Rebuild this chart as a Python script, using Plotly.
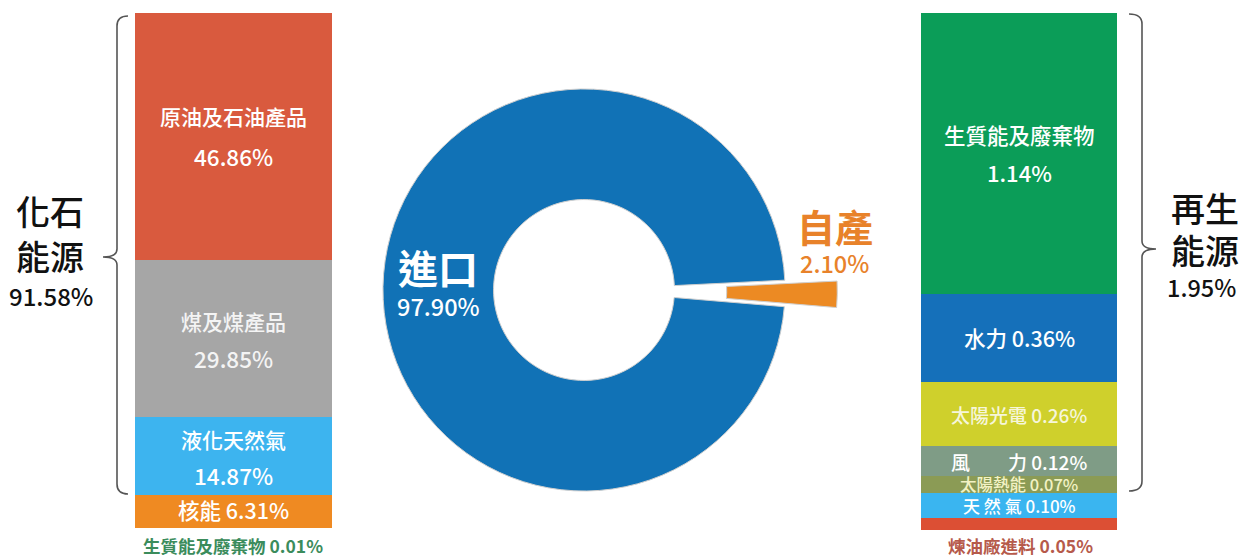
import plotly.graph_objects as go

W, H = 1243, 557
FONT = "Noto Sans CJK TC"

# ---- data ----
# imports (left bar), bottom -> top
import_cats = ["生質能及廢棄物", "核能", "液化天然氣", "煤及煤產品", "原油及石油產品"]
import_vals = [0.01, 6.31, 14.87, 29.85, 46.86]
import_colors = ["#2e9a5c", "#ef8a22", "#3db4ef", "#a6a6a6", "#d95a3e"]

# domestic production (right bar), bottom -> top
dom_cats = ["煉油廠進料", "天然氣", "太陽熱能", "風力", "太陽光電", "水力", "生質能及廢棄物"]
dom_vals = [0.05, 0.10, 0.07, 0.12, 0.26, 0.36, 1.14]
dom_colors = ["#dc4f34", "#3ab5f0", "#8b9b55", "#7f9c86", "#cfd02c", "#1570ba", "#0b9d58"]

pie_labels = ["自產", "進口"]
pie_vals = [2.10, 97.90]
pie_colors = ["#ec8a23", "#1172b6"]

fossil_share = round(sum(import_vals[2:]), 2)      # 液化天然氣 + 煤 + 原油
renew_share = round(sum(dom_vals[2:]), 2)          # 太陽熱能..生質能


def px(x):
    return x / W


def py(y):
    return 1 - y / H


fig = go.Figure()

# ---- left stacked bar ----
for c, v, col in zip(import_cats, import_vals, import_colors):
    fig.add_trace(go.Bar(x=[0], y=[v], name=c, marker=dict(color=col, line=dict(width=0)),
                         width=1, xaxis="x", yaxis="y", hoverinfo="skip", showlegend=False))

# ---- right stacked bar ----
for c, v, col in zip(dom_cats, dom_vals, dom_colors):
    fig.add_trace(go.Bar(x=[0], y=[v], name=c, marker=dict(color=col, line=dict(width=0)),
                         width=1, xaxis="x2", yaxis="y2", hoverinfo="skip", showlegend=False))

# ---- donut ----
fig.add_trace(go.Pie(labels=pie_labels, values=pie_vals, hole=0.45, sort=False,
                     direction="clockwise", rotation=87.2, pull=[0.26, 0],
                     marker=dict(colors=pie_colors, line=dict(color="#cfcfcf", width=1)),
                     textinfo="none", hoverinfo="skip", showlegend=False,
                     domain=dict(x=[px(304), px(864)], y=[py(543.3), py(36.7)])))

ann = []


def add(text, x, y, size, color, xref="paper", yref="paper", yshift=0, weight=500):
    ann.append(dict(text=text, x=x, y=y, xref=xref, yref=yref, showarrow=False,
                    xanchor="center", yanchor="middle", yshift=yshift,
                    font=dict(family=FONT, size=size, color=color, weight=weight)))


# left bar labels
cum = 0
left_mid = []
for v in import_vals:
    left_mid.append(cum + v / 2)
    cum += v
add(import_cats[4], 0, left_mid[4], 21, "#ffffff", "x", "y", yshift=20)
add(f"{import_vals[4]:.2f}%", 0, left_mid[4], 22.5, "#ffffff", "x", "y", yshift=-20)
add(import_cats[3], 0, left_mid[3], 21, "#f4f4f4", "x", "y", yshift=17)
add(f"{import_vals[3]:.2f}%", 0, left_mid[3], 22.5, "#f4f4f4", "x", "y", yshift=-20)
add(import_cats[2], 0, left_mid[2], 21, "#ffffff", "x", "y", yshift=17)
add(f"{import_vals[2]:.2f}%", 0, left_mid[2], 22.5, "#ffffff", "x", "y", yshift=-19)
add(f"{import_cats[1]} {import_vals[1]:.2f}%", 0, left_mid[1] + 0.4, 21.5, "#ffffff", "x", "y")
add(f"{import_cats[0]} {import_vals[0]:.2f}%", px(233), py(545), 17.5, "#3b8c5c", weight=700)

# right bar labels
cum = 0
right_mid = []
for v in dom_vals:
    right_mid.append(cum + v / 2)
    cum += v
add(dom_cats[6], 0, right_mid[6], 21.5, "#ffffff", "x2", "y2", yshift=19)
add(f"{dom_vals[6]:.2f}%", 0, right_mid[6], 22, "#ffffff", "x2", "y2", yshift=-19)
add(f"{dom_cats[5]} {dom_vals[5]:.2f}%", 0, right_mid[5], 21.5, "#ffffff", "x2", "y2")
add(f"{dom_cats[4]} {dom_vals[4]:.2f}%", 0, right_mid[4], 19, "#f6f6da", "x2", "y2")
add(f"風　　力 {dom_vals[3]:.2f}%", 0, right_mid[3], 19, "#ffffff", "x2", "y2")
add(f"{dom_cats[2]} {dom_vals[2]:.2f}%", 0, right_mid[2], 16.5, "#f2f2c4", "x2", "y2")
add(f"天 然 氣 {dom_vals[1]:.2f}%", 0, right_mid[1], 17, "#ffffff", "x2", "y2")
add(f"{dom_cats[0]} {dom_vals[0]:.2f}%", px(1020), py(545), 17.5, "#b65a4b", weight=700)

# group labels
add("化石", px(50), py(210), 34, "#111111")
add("能源", px(50), py(255), 34, "#111111")
add(f"{fossil_share:.2f}%", px(51), py(295), 24, "#111111")
add("再生", px(1205), py(207), 34, "#111111")
add("能源", px(1205), py(249), 34, "#111111")
add(f"{renew_share:.2f}%", px(1201), py(287), 23.5, "#111111")

# donut labels
add(f"{pie_labels[1]}", px(438), py(267), 40, "#ffffff", weight=700)
add(f"{pie_vals[1]:.2f}%", px(438), py(306), 23.5, "#ffffff")
add(f"{pie_labels[0]}", px(835), py(225), 38, "#e8822a", weight=700)
add(f"{pie_vals[0]:.2f}%", px(834), py(263), 23.5, "#e8822a")


# braces
def brace(xtip, xv, ytop, ybot, ytip, hook):
    r = 10
    return (f"M {px(xv + hook)},{py(ytop)} Q {px(xv)},{py(ytop)} {px(xv)},{py(ytop + r)} "
            f"L {px(xv)},{py(ytip - 8)} Q {px(xv)},{py(ytip)} {px(xtip)},{py(ytip)} "
            f"Q {px(xv)},{py(ytip)} {px(xv)},{py(ytip + 8)} "
            f"L {px(xv)},{py(ybot - r)} Q {px(xv)},{py(ybot)} {px(xv + hook)},{py(ybot)}")


shapes = [
    dict(type="path", xref="paper", yref="paper", path=brace(103, 117, 16, 494, 257, 11),
         line=dict(color="#555555", width=1.6)),
    dict(type="path", xref="paper", yref="paper", path=brace(1156, 1142, 14, 491, 249, -13),
         line=dict(color="#555555", width=1.6)),
]

fig.update_layout(
    width=W, height=H, margin=dict(l=0, r=0, t=0, b=0),
    paper_bgcolor="white", plot_bgcolor="white",
    barmode="stack", bargap=0,
    annotations=ann, shapes=shapes,
    xaxis=dict(domain=[px(135), px(332)], range=[-0.5, 0.5], visible=False, fixedrange=True),
    yaxis=dict(domain=[py(528), py(13)], range=[0, sum(import_vals)], visible=False, fixedrange=True),
    xaxis2=dict(domain=[px(921), px(1117)], range=[-0.5, 0.5], visible=False, fixedrange=True,
                anchor="y2"),
    yaxis2=dict(domain=[py(530), py(13)], range=[0, sum(dom_vals)], visible=False, fixedrange=True,
                anchor="x2"),
    font=dict(family=FONT),
)

fig.write_html("out.html", config={"displayModeBar": False},
               post_script="document.body.style.margin='0';document.body.style.overflow='hidden';")
